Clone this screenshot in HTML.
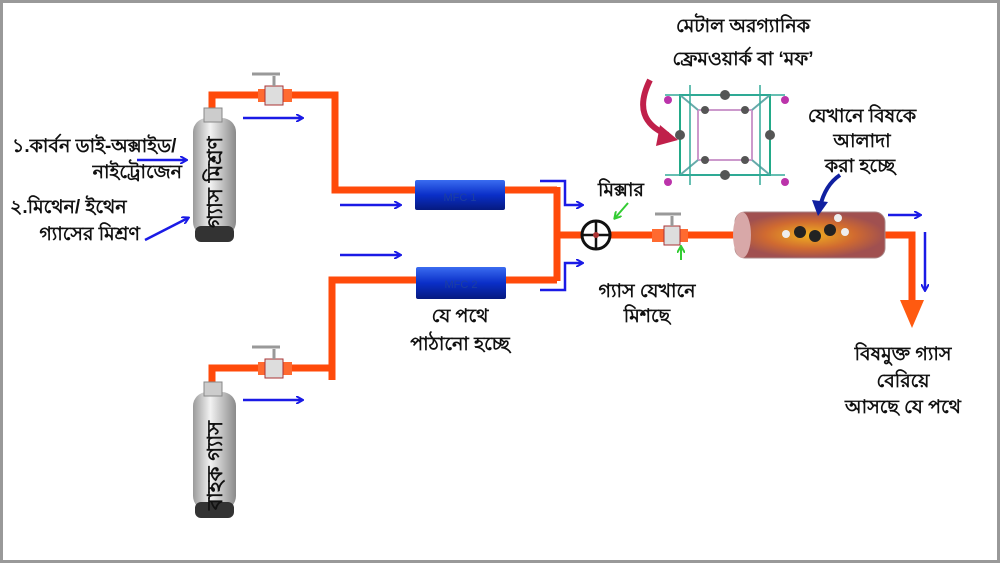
<!DOCTYPE html>
<html><head><meta charset="utf-8"><style>
html,body{margin:0;padding:0;background:#fff}
svg{display:block}
text{font-family:"Liberation Sans","Noto Sans CJK SC",sans-serif;fill:#111}
</style></head><body>
<svg width="1000" height="563" viewBox="0 0 1000 563" xmlns="http://www.w3.org/2000/svg">
<defs>
<linearGradient id="cyl" x1="0" x2="1"><stop offset="0" stop-color="#9a9a9a"/><stop offset=".4" stop-color="#f2f2f2"/><stop offset="1" stop-color="#8a8a8a"/></linearGradient>
<linearGradient id="mfc" x1="0" y1="0" x2="0" y2="1"><stop offset="0" stop-color="#3a6cf0"/><stop offset=".5" stop-color="#0a2fc8"/><stop offset="1" stop-color="#061a80"/></linearGradient>
<radialGradient id="rea"><stop offset="0" stop-color="#f0b020"/><stop offset=".6" stop-color="#d06a30"/><stop offset="1" stop-color="#a05050"/></radialGradient>
<marker id="ab" markerWidth="8" markerHeight="8" refX="6" refY="4" orient="auto" markerUnits="userSpaceOnUse"><path d="M0,0 L7,4 L0,8" fill="none" stroke="#1a1ae6" stroke-width="2"/></marker>
<marker id="ag" markerWidth="8" markerHeight="8" refX="6" refY="4" orient="auto" markerUnits="userSpaceOnUse"><path d="M0,0 L7,4 L0,8" fill="none" stroke="#3c3" stroke-width="2"/></marker>
</defs>
<rect x="0" y="0" width="1000" height="563" fill="#fff" stroke="#999" stroke-width="6"/>
<g fill="none" stroke="#ff4a0a" stroke-width="7">
<path d="M212,110 V95 H335 V190 H557 M557,187 V281 M332,380 V280 H557 M212,382 V368 H330 M557,235 H740 M880,235 H912 V305"/>
</g>
<polygon points="900,300 924,300 912,328" fill="#ff5a10"/>
<g>
<rect x="258" y="89" width="34" height="13" fill="#ff6a30"/><rect x="265" y="86" width="18" height="19" fill="#ddd" stroke="#a33"/><path d="M274,86 V76 M252,74 H280" stroke="#999" stroke-width="3"/>
<rect x="258" y="362" width="34" height="13" fill="#ff6a30"/><rect x="265" y="359" width="18" height="19" fill="#ddd" stroke="#a33"/><path d="M274,359 V349 M252,347 H280" stroke="#999" stroke-width="3"/>
<rect x="652" y="229" width="36" height="13" fill="#ff6a30"/><rect x="664" y="226" width="16" height="19" fill="#ddd" stroke="#a33"/><path d="M672,226 V216 M655,214 H681" stroke="#999" stroke-width="3"/>
</g>
<g>
<rect x="193" y="118" width="43" height="118" rx="14" fill="url(#cyl)"/><rect x="195" y="226" width="39" height="16" rx="6" fill="#333"/><rect x="204" y="108" width="18" height="14" fill="#ccc" stroke="#888"/>
<rect x="193" y="392" width="43" height="118" rx="14" fill="url(#cyl)"/><rect x="195" y="502" width="39" height="16" rx="6" fill="#333"/><rect x="204" y="382" width="18" height="14" fill="#ccc" stroke="#888"/>
<text transform="translate(222,228) rotate(-90)" font-size="21" font-weight="bold">গ্যাস মিশ্রণ</text>
<text transform="translate(222,510) rotate(-90)" font-size="21" font-weight="bold">বাহক গ্যাস</text>
</g>
<rect x="415" y="180" width="90" height="30" rx="2" fill="url(#mfc)"/><text x="460" y="201" font-size="11" text-anchor="middle" style="fill:#1d3fa0">MFC 1</text>
<rect x="416" y="267" width="90" height="32" rx="2" fill="url(#mfc)"/><text x="461" y="288" font-size="11" text-anchor="middle" style="fill:#1d3fa0">MFC 2</text>
<circle cx="596" cy="235" r="14" fill="#fff" stroke="#111" stroke-width="3"/><path d="M582,235 H610 M596,221 V249" stroke="#111" stroke-width="2.5"/><circle cx="596" cy="235" r="3" fill="#a33"/>
<rect x="735" y="212" width="150" height="46" rx="10" fill="url(#rea)" stroke="#a88"/><ellipse cx="742" cy="235" rx="9" ry="23" fill="#d8a8a8"/>
<g fill="#222"><circle cx="800" cy="232" r="6"/><circle cx="815" cy="236" r="6"/><circle cx="830" cy="230" r="6"/></g>
<g fill="#eee"><circle cx="786" cy="234" r="4"/><circle cx="845" cy="232" r="4"/><circle cx="838" cy="218" r="4"/></g>
<g stroke="#2a8" stroke-width="2" fill="none">
<rect x="680" y="95" width="90" height="80"/><rect x="698" y="110" width="54" height="50" stroke="#c9c"/>
<path d="M680,95 L698,110 M770,95 L752,110 M680,175 L698,160 M770,175 L752,160" stroke="#6aa"/>
<path d="M665,95 H785 M665,175 H785 M690,85 V185 M760,85 V185" stroke="#3a9" stroke-width="1.5"/>
</g>
<g fill="#555"><circle cx="725" cy="95" r="5"/><circle cx="725" cy="175" r="5"/><circle cx="680" cy="135" r="5"/><circle cx="770" cy="135" r="5"/><circle cx="705" cy="110" r="4"/><circle cx="745" cy="110" r="4"/><circle cx="705" cy="160" r="4"/><circle cx="745" cy="160" r="4"/></g>
<g fill="#b3a"><circle cx="668" cy="100" r="4"/><circle cx="785" cy="100" r="4"/><circle cx="668" cy="182" r="4"/><circle cx="785" cy="182" r="4"/></g>
<path d="M650,80 Q630,120 668,135" fill="none" stroke="#c0204a" stroke-width="6"/><polygon points="660,125 678,140 656,146" fill="#c0204a"/>
<path d="M840,175 Q825,185 820,207" fill="none" stroke="#1020a0" stroke-width="4"/><polygon points="812,200 828,202 818,216" fill="#1020a0"/>
<g stroke="#1a1ae6" stroke-width="2.5" fill="none" marker-end="url(#ab)">
<path d="M243,118 H302"/><path d="M340,205 H400"/><path d="M340,255 H400"/><path d="M243,400 H302"/>
<path d="M540,181 H565 V205 H582"/><path d="M540,290 H565 V263 H582"/>
<path d="M888,215 H920"/><path d="M925,232 V290"/>
<path d="M137,160 H186"/><path d="M145,240 L188,218"/>
</g>
<g stroke="#3c3" stroke-width="2" fill="none" marker-end="url(#ag)"><path d="M628,203 L615,218"/><path d="M681,260 V247"/></g>
<g font-size="19" font-weight="bold">
<text x="12" y="152">১.কার্বন ডাই-অক্সাইড/</text>
<text x="182" y="178" text-anchor="end">নাইট্রোজেন</text>
<text x="10" y="213">২.মিথেন/ ইথেন</text>
<text x="140" y="240" text-anchor="end">গ্যাসের মিশ্রণ</text>
<text x="743" y="32" text-anchor="middle">মেটাল অরগ্যানিক</text>
<text x="743" y="65" text-anchor="middle">ফ্রেমওয়ার্ক বা ‘মফ’</text>
<text x="862" y="122" text-anchor="middle">যেখানে বিষকে</text>
<text x="862" y="147" text-anchor="middle">আলাদা</text>
<text x="860" y="172" text-anchor="middle">করা হচ্ছে</text>
<text x="621" y="196" text-anchor="middle">মিক্সার</text>
<text x="647" y="297" text-anchor="middle">গ্যাস যেখানে</text>
<text x="647" y="322" text-anchor="middle">মিশছে</text>
<text x="460" y="322" text-anchor="middle">যে পথে</text>
<text x="460" y="350" text-anchor="middle">পাঠানো হচ্ছে</text>
<text x="903" y="360" text-anchor="middle">বিষমুক্ত গ্যাস</text>
<text x="903" y="387" text-anchor="middle">বেরিয়ে</text>
<text x="903" y="413" text-anchor="middle">আসছে যে পথে</text>
</g>
</svg>
</body></html>
